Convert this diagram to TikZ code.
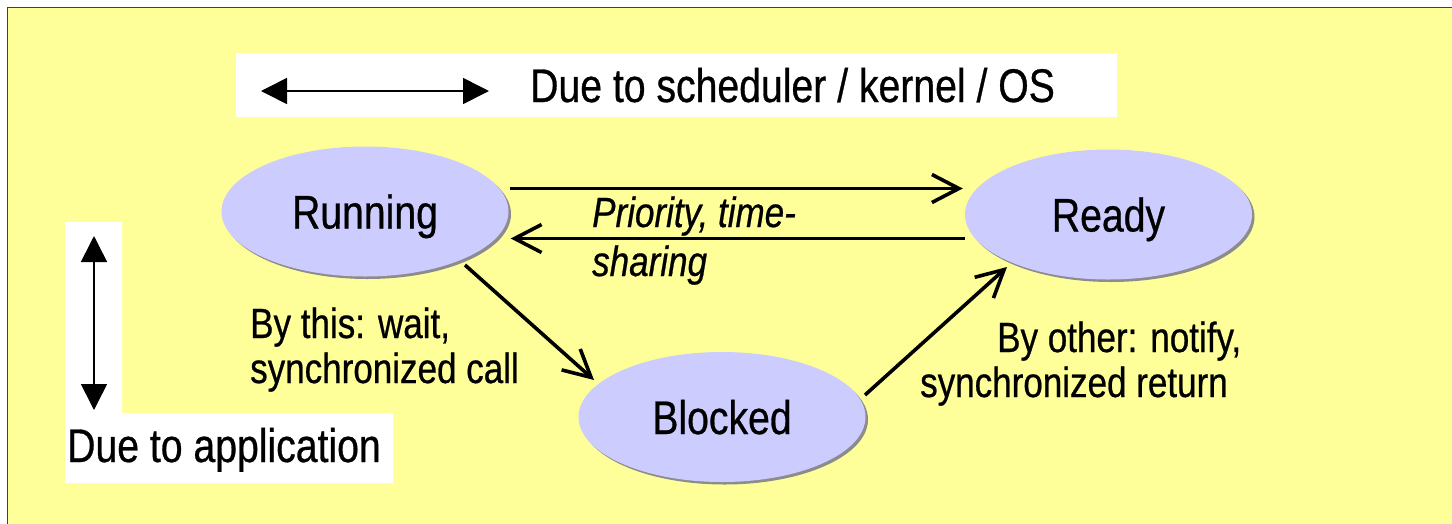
\documentclass[tikz,border=0pt]{standalone}
\usepackage{fontspec}
\setmainfont{Liberation Sans}[FakeStretch=0.83,FakeBold=0.6]
\usetikzlibrary{arrows.meta,shadows,calc,shapes.geometric}
\definecolor{bgyellow}{HTML}{FFFF99}
\definecolor{statefill}{HTML}{CCCCFF}
\definecolor{framecol}{HTML}{404040}
\begin{document}
\begin{tikzpicture}[x=1pt,y=-1pt,
  state/.style={ellipse, fill=statefill, minimum width=287pt, minimum height=130pt, inner sep=0pt,
    text height=34pt, text depth=0pt, font=\fontsize{47.2}{56}\selectfont,
    drop shadow={shadow xshift=2.5pt, shadow yshift=-2.5pt, fill=black!45, opacity=1}},
  trans/.style={line width=3.6pt, -{Straight Barb[length=27pt,width=28pt]}},
  legarrow/.style={line width=1.6pt, {Triangle[length=26pt,width=26pt]}-{Triangle[length=26pt,width=26pt]}},
  lbl/.style={font=\fontsize{42.2}{45}\selectfont, align=left, inner sep=0pt, anchor=base west},
  big/.style={font=\fontsize{47.2}{56}\selectfont, inner sep=0pt, anchor=base west}]
\useasboundingbox (0,0) rectangle (1452,523);
\clip (0,0) rectangle (1452,523);
\fill[white] (0,0) rectangle (1452,523);
\draw[fill=bgyellow, draw=framecol, line width=1.5pt] (7.5,7.5) rectangle (1470,540);

% legend boxes
\fill[white] (236,53) rectangle (1117,117);
\fill[white] (65,222) -- (122,222) -- (122,413) -- (393,413) -- (393,483) -- (65,483) -- cycle;
\coordinate (hl) at (261,91);
\coordinate (hr) at (489,91);
\coordinate (vt) at (94,236);
\coordinate (vb) at (94,410);
\draw[legarrow] (hl) -- (hr);
\draw[legarrow] (vt) -- (vb);
\node[big] (oslbl) at (530,102) {Due to scheduler / kernel / OS};
\node[big] (applbl) at (67,462) {Due to application};

% states
\node[state] (run) at (365,211.5) {Running};
\node[state] (ready) at (1108.5,214.5) {Ready};
\node[state] (blk) at (722,417) {Blocked};

% transitions
\draw[trans] ($(run.east)+(1,-23)$) -- ($(ready.west)+(-2,-26)$);
\draw[trans] ($(ready.west)+(0,24)$) -- ($(run.east)+(2,27)$);
\draw[trans] ($(run.center)+(100,53.5)$) -- ($(blk.center)+(-128,-37)$);
\draw[trans] ($(blk.center)+(143,-22)$) -- ($(ready.center)+(-101.5,52.5)$);

% labels (base anchor = baseline of last line)
\node[lbl, font=\fontsize{42.2}{49}\selectfont\itshape] (prio) at (592,276) {Priority, time-\\sharing};
\node[lbl] (bythis) at (250,383) {By this: wait,\\synchronized call};
\node[lbl] (byother) at (920,397) {\hspace*{77pt}By other: notify,\\synchronized return};
\end{tikzpicture}
\end{document}
